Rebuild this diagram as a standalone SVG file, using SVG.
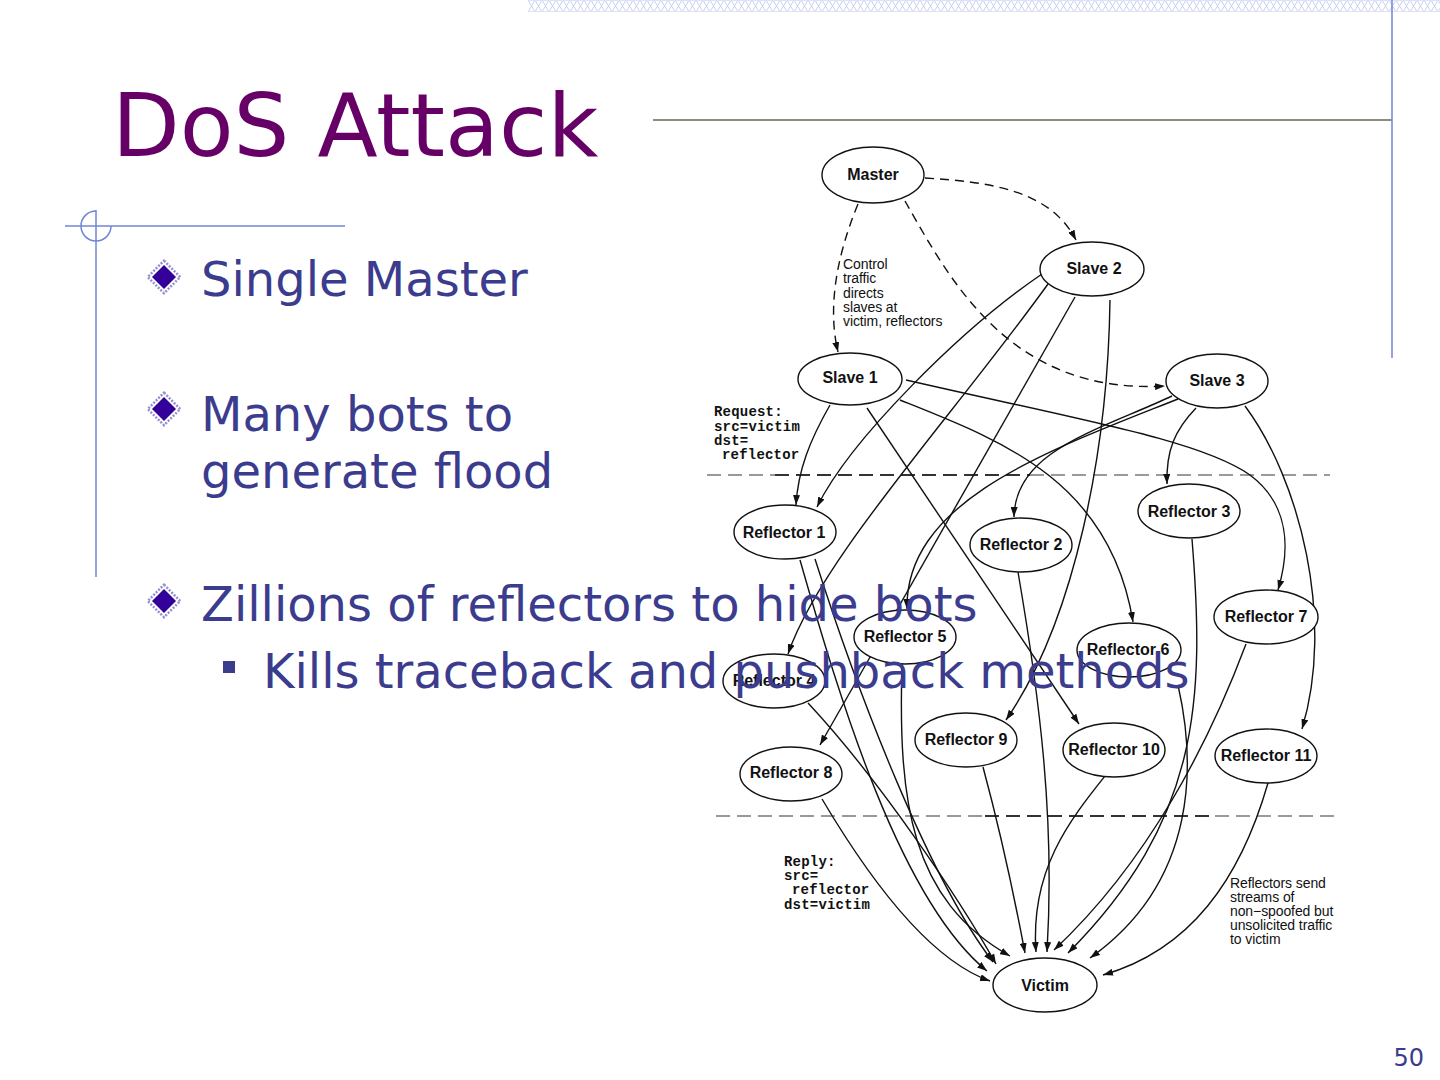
<svg xmlns="http://www.w3.org/2000/svg" width="1440" height="1080" viewBox="0 0 1440 1080">
<defs>
<pattern id="xband" x="528" y="0" width="7" height="12" patternUnits="userSpaceOnUse">
<path d="M0.5,1 L6.5,11 M6.5,1 L0.5,11" stroke="#c9d0ee" stroke-width="1" fill="none"/>
<path d="M0,0.5 H7 M0,11.5 H7" stroke="#dde2f5" stroke-width="1"/>
</pattern>
<marker id="arr" viewBox="0 0 10 7" refX="10" refY="3.5" markerWidth="10" markerHeight="7" markerUnits="userSpaceOnUse" orient="auto">
<path d="M0,0 L10,3.5 L0,7 z" fill="#111"/>
</marker>
<g id="diamond">
<rect x="-11.5" y="-11.5" width="23" height="23" transform="rotate(45)" fill="#ffffff" stroke="#8f8fd0" stroke-width="2.5" stroke-dasharray="2 1.5"/>
<rect x="-8.5" y="-8.5" width="17" height="17" transform="rotate(45)" fill="#330099"/>
</g>
</defs>
<style>
.node ellipse{fill:#ffffff;stroke:#111;stroke-width:1.4}
.node text{font-family:"Liberation Sans",Arial,sans-serif;font-weight:bold;font-size:16px;fill:#111;text-anchor:middle}
.edge{fill:none;stroke:#111;stroke-width:1.4;marker-end:url(#arr)}
.ctrl{fill:none;stroke:#111;stroke-width:1.4;stroke-dasharray:9 6;marker-end:url(#arr)}
.sep{stroke-width:2;stroke-dasharray:14 7;fill:none}
.note{font-family:"Liberation Sans",Arial,sans-serif;font-size:14px;fill:#111;letter-spacing:-0.1px}
.mono{font-family:"Liberation Mono","Courier New",monospace;font-weight:bold;font-size:14px;fill:#111;letter-spacing:0.2px}
.bul{font-family:"DejaVu Sans",Verdana,sans-serif;font-size:48px;fill:#3c3c8e}
.deco{stroke:#6f86d8;stroke-width:1.5;fill:none}
</style>
<rect width="1440" height="1080" fill="#ffffff"/>
<g id="decoration">
<rect x="528" y="0" width="912" height="12" fill="url(#xband)"/>
<line x1="1392" y1="0" x2="1392" y2="358" class="deco"/>
<line x1="653" y1="120" x2="1392" y2="120" stroke="#8c8c82" stroke-width="2"/>
<line x1="65" y1="226" x2="345" y2="226" class="deco"/>
<line x1="96" y1="210" x2="96" y2="577" class="deco"/>
<path d="M96,211 A15,15 0 1 0 111,226" class="deco"/>
</g>
<g id="separators">
<line x1="707" y1="475" x2="775" y2="475" class="sep" stroke="#999"/>
<line x1="775" y1="475" x2="1030" y2="475" class="sep" stroke="#333"/>
<line x1="1030" y1="475" x2="1330" y2="475" class="sep" stroke="#9a9a9a"/>
<line x1="716" y1="816" x2="985" y2="816" class="sep" stroke="#999"/>
<line x1="985" y1="816" x2="1215" y2="816" class="sep" stroke="#333"/>
<line x1="1215" y1="816" x2="1338" y2="816" class="sep" stroke="#9a9a9a"/>
</g>
<g id="connectors">
<path class="ctrl" d="M925,178 C990,182 1050,190 1076,240"/>
<path class="ctrl" d="M858,204 C835,260 828,310 838,352"/>
<path class="ctrl" d="M905,201 C950,280 1010,395 1165,386"/>
<path class="edge" d="M830,405 C810,440 798,470 796,505"/>
<path class="edge" d="M867,408 L1079,724"/>
<path class="edge" d="M900,400 C1000,440 1110,480 1133,622"/>
<path class="edge" d="M906,380 C1080,420 1200,440 1250,475 C1290,505 1290,550 1278,590"/>
<path class="edge" d="M1042,274 C960,330 850,440 817,507"/>
<path class="edge" d="M1048,284 C950,420 820,560 788,654"/>
<path class="edge" d="M1075,297 L820,745"/>
<path class="edge" d="M1110,300 C1108,450 1075,620 1006,720"/>
<path class="edge" d="M1172,396 C1100,430 1015,450 1014,517"/>
<path class="edge" d="M1178,399 C1050,450 905,500 907,609"/>
<path class="edge" d="M1196,408 C1175,430 1166,450 1167,484"/>
<path class="edge" d="M1245,406 C1300,480 1335,620 1302,729"/>
<path class="edge" d="M822,799 C870,880 930,960 990,981"/>
<path class="edge" d="M808,703 C880,780 960,900 996,964"/>
<path class="edge" d="M800,560 C840,700 900,900 987,971"/>
<path class="edge" d="M815,559 C860,700 930,880 993,962"/>
<path class="edge" d="M902,664 C898,800 910,900 1010,956"/>
<path class="edge" d="M1018,572 C1040,700 1055,820 1047,952"/>
<path class="edge" d="M983,767 C1000,830 1015,900 1025,953"/>
<path class="edge" d="M1105,776 C1070,820 1030,870 1036,952"/>
<path class="edge" d="M1178,685 C1195,760 1200,880 1090,958"/>
<path class="edge" d="M1192,539 C1205,700 1200,820 1068,953"/>
<path class="edge" d="M1246,644 C1210,740 1150,860 1054,950"/>
<path class="edge" d="M1268,783 C1240,880 1190,950 1103,975"/>
</g>
<g id="master" class="node"><ellipse cx="873" cy="175" rx="51" ry="28"/><text x="873" y="180">Master</text></g>
<g id="slave2" class="node"><ellipse cx="1092" cy="269" rx="52" ry="27"/><text x="1094" y="274">Slave 2</text></g>
<g id="slave1" class="node"><ellipse cx="850" cy="379" rx="52" ry="26"/><text x="850" y="383">Slave 1</text></g>
<g id="slave3" class="node"><ellipse cx="1217" cy="381" rx="51" ry="27"/><text x="1217" y="386">Slave 3</text></g>
<g id="reflector1" class="node"><ellipse cx="785" cy="532" rx="51" ry="27"/><text x="784" y="538">Reflector 1</text></g>
<g id="reflector2" class="node"><ellipse cx="1021" cy="545" rx="51" ry="27"/><text x="1021" y="550">Reflector 2</text></g>
<g id="reflector3" class="node"><ellipse cx="1189" cy="511" rx="51" ry="27"/><text x="1189" y="517">Reflector 3</text></g>
<g id="reflector4" class="node"><ellipse cx="774" cy="681" rx="51" ry="27"/><text x="774" y="686">Reflector 4</text></g>
<g id="reflector5" class="node"><ellipse cx="905" cy="637" rx="51" ry="27"/><text x="905" y="642">Reflector 5</text></g>
<g id="reflector6" class="node"><ellipse cx="1129" cy="650" rx="52" ry="27"/><text x="1128" y="655">Reflector 6</text></g>
<g id="reflector7" class="node"><ellipse cx="1266" cy="617" rx="52" ry="27"/><text x="1266" y="622">Reflector 7</text></g>
<g id="reflector8" class="node"><ellipse cx="791" cy="774" rx="51" ry="27"/><text x="791" y="778">Reflector 8</text></g>
<g id="reflector9" class="node"><ellipse cx="966" cy="740" rx="51" ry="27"/><text x="966" y="745">Reflector 9</text></g>
<g id="reflector10" class="node"><ellipse cx="1114" cy="750" rx="51" ry="27"/><text x="1114" y="755">Reflector 10</text></g>
<g id="reflector11" class="node"><ellipse cx="1266" cy="756" rx="51" ry="27"/><text x="1266" y="761">Reflector 11</text></g>
<g id="victim" class="node"><ellipse cx="1045" cy="985" rx="52" ry="27"/><text x="1045" y="991">Victim</text></g>
<g id="notes">
<text class="note" x="843" y="269">Control</text>
<text class="note" x="843" y="283">traffic</text>
<text class="note" x="843" y="298">directs</text>
<text class="note" x="843" y="312">slaves at</text>
<text class="note" x="843" y="326">victim, reflectors</text>
<text class="mono" x="714" y="416">Request:</text>
<text class="mono" x="714" y="431">src=victim</text>
<text class="mono" x="714" y="445">dst=</text>
<text class="mono" x="722" y="459">reflector</text>
<text class="mono" x="784" y="866">Reply:</text>
<text class="mono" x="784" y="880">src=</text>
<text class="mono" x="792" y="894">reflector</text>
<text class="mono" x="784" y="909">dst=victim</text>
<text class="note" x="1230" y="888">Reflectors send</text>
<text class="note" x="1230" y="902">streams of</text>
<text class="note" x="1230" y="916">non−spoofed but</text>
<text class="note" x="1230" y="930">unsolicited traffic</text>
<text class="note" x="1230" y="944">to victim</text>
</g>
<g id="slide-text">
<text x="112" y="156" font-family="DejaVu Sans,Verdana,sans-serif" font-size="88" fill="#660066">DoS Attack</text>
<use href="#diamond" x="164" y="277"/>
<use href="#diamond" x="164" y="409"/>
<use href="#diamond" x="164" y="601"/>
<text class="bul" x="201" y="296">Single Master</text>
<text class="bul" x="201" y="431">Many bots to</text>
<text class="bul" x="201" y="488">generate flood</text>
<text class="bul" x="201" y="621">Zillions of reflectors to hide bots</text>
<rect x="223" y="661" width="12" height="12" fill="#3c3c8e"/>
<text class="bul" x="263" y="688">Kills traceback and pushback methods</text>
<text x="1424" y="1066" text-anchor="end" font-family="DejaVu Sans,Verdana,sans-serif" font-size="24" fill="#3c3c8e">50</text>
</g>
</svg>
